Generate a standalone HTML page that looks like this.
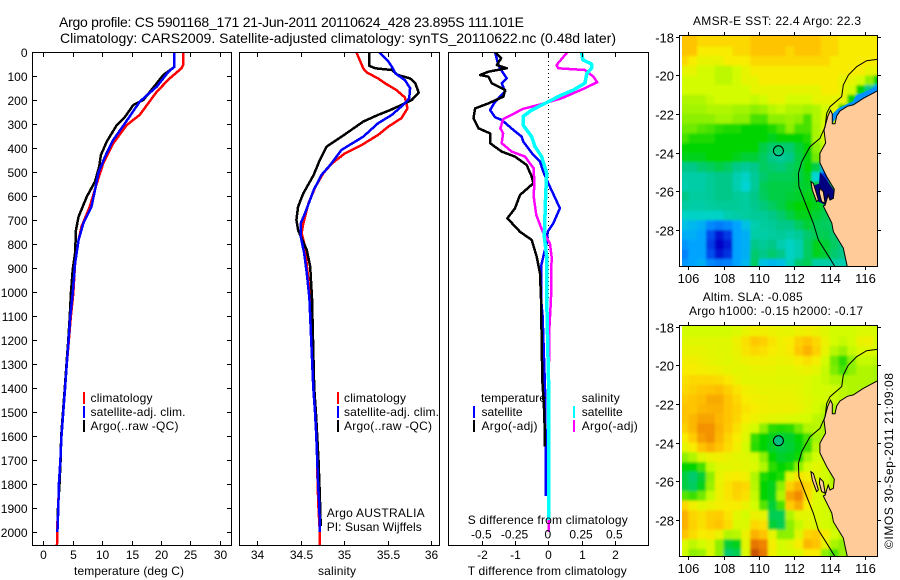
<!DOCTYPE html>
<html lang="en">
<head>
<meta charset="utf-8">
<title>Argo profile 5901168_171</title>
<style>
html,body{margin:0;padding:0;background:#fff}
svg{display:block}
text{font-family:"Liberation Sans",sans-serif;font-size:12px;fill:#000}
.title{font-size:14px}
.map{font-size:13px}
.box{fill:none;stroke:#000;stroke-width:1;shape-rendering:crispEdges}
</style>
</head>
<body>
<svg id="chart" width="900" height="580" viewBox="0 0 900 580" xmlns="http://www.w3.org/2000/svg">
  <text class="title" x="59" y="27" textLength="465" lengthAdjust="spacing">Argo profile: CS 5901168_171 21-Jun-2011 20110624_428 23.895S 111.101E</text>
  <text class="title" x="60" y="43" textLength="556" lengthAdjust="spacing">Climatology: CARS2009. Satellite-adjusted climatology: synTS_20110622.nc (0.48d later)</text>

  <defs>
    <clipPath id="clip-temp"><rect x="32" y="52" width="200" height="494"/></clipPath>
    <clipPath id="clip-sal"><rect x="239" y="52" width="201" height="494"/></clipPath>
    <clipPath id="clip-diff"><rect x="448" y="52" width="201" height="494"/></clipPath>
    <clipPath id="clip-map-sst"><rect x="682" y="36" width="195" height="230"/></clipPath>
    <clipPath id="clip-map-sla"><rect x="682" y="326" width="195" height="230"/></clipPath>
    <filter id="soften" x="-5%" y="-5%" width="110%" height="110%"><feGaussianBlur stdDeviation="1.3"/></filter>
  </defs>

  <g id="plot-temp" clip-path="url(#clip-temp)"></g>
  <g id="plot-sal" clip-path="url(#clip-sal)"></g>
  <line x1="548.5" y1="53" x2="548.5" y2="300" stroke="#000" stroke-width="1" stroke-dasharray="1 3"/>
  <g id="plot-diff" clip-path="url(#clip-diff)"></g>

  <g id="axes"></g>
  <rect class="box" x="32.5" y="52.5" width="199" height="493"/>
  <rect class="box" x="239.5" y="52.5" width="200" height="493"/>
  <rect class="box" x="448.5" y="52.5" width="200" height="493"/>

  <text x="74" y="575" textLength="110" lengthAdjust="spacing">temperature (deg C)</text>
  <text x="318" y="575" textLength="38" lengthAdjust="spacing">salinity</text>
  <text x="467.7" y="575" textLength="159" lengthAdjust="spacing">T difference from climatology</text>
  <text x="467.7" y="524" textLength="160" lengthAdjust="spacing">S difference from climatology</text>

  <g>
    <rect x="83" y="392" width="2" height="12" fill="#f00"/>
    <text x="90.5" y="402" textLength="62" lengthAdjust="spacing">climatology</text>
    <rect x="83" y="406" width="2" height="12" fill="#00f"/>
    <text x="90.5" y="416" textLength="95" lengthAdjust="spacing">satellite-adj. clim.</text>
    <rect x="83" y="420" width="2" height="12" fill="#000"/>
    <text x="90.5" y="430" textLength="88" lengthAdjust="spacing">Argo(..raw -QC)</text>
  </g>
  <g>
    <rect x="337" y="392" width="2" height="12" fill="#f00"/>
    <text x="344" y="402" textLength="62" lengthAdjust="spacing">climatology</text>
    <rect x="337" y="406" width="2" height="12" fill="#00f"/>
    <text x="344" y="416" textLength="95" lengthAdjust="spacing">satellite-adj. clim.</text>
    <rect x="337" y="420" width="2" height="12" fill="#000"/>
    <text x="344" y="430" textLength="88" lengthAdjust="spacing">Argo(..raw -QC)</text>
  </g>
  <text x="326.7" y="517" textLength="98" lengthAdjust="spacing">Argo AUSTRALIA</text>
  <text x="326.7" y="531" textLength="95" lengthAdjust="spacing">PI: Susan Wijffels</text>

  <g>
    <text x="481" y="402" textLength="65" lengthAdjust="spacing">temperature</text>
    <rect x="473" y="406" width="2" height="12" fill="#00f"/>
    <text x="481.5" y="416" textLength="41" lengthAdjust="spacing">satellite</text>
    <rect x="473" y="420" width="2" height="12" fill="#000"/>
    <text x="481.5" y="430" textLength="56" lengthAdjust="spacing">Argo(-adj)</text>
    <text x="581.7" y="402" textLength="38" lengthAdjust="spacing">salinity</text>
    <rect x="573" y="406" width="2" height="12" fill="#0ff"/>
    <text x="581.7" y="416" textLength="41" lengthAdjust="spacing">satellite</text>
    <rect x="573" y="420" width="2" height="12" fill="#f0f"/>
    <text x="581.7" y="430" textLength="56" lengthAdjust="spacing">Argo(-adj)</text>
  </g>

  <text x="693" y="25" textLength="168" lengthAdjust="spacing">AMSR-E SST: 22.4  Argo: 22.3</text>
  <g id="map-sst" clip-path="url(#clip-map-sst)"></g>
  <rect class="box" x="679.5" y="35.5" width="198" height="231"/>

  <text x="702.7" y="301" textLength="100" lengthAdjust="spacing">Altim. SLA: -0.085</text>
  <text x="689" y="315" textLength="174" lengthAdjust="spacing">Argo h1000: -0.15 h2000: -0.17</text>
  <g id="map-sla" clip-path="url(#clip-map-sla)"></g>
  <rect class="box" x="679.5" y="325.5" width="198" height="231"/>

  <text transform="translate(893,549) rotate(-90)" textLength="176" lengthAdjust="spacing">©IMOS 30-Sep-2011 21:09:08</text>
</svg>

<script>
// Tick labels
const depthTicks = [0,100,200,300,400,500,600,700,800,900,1000,1100,1200,1300,1400,1500,1600,1700,1800,1900,2000];
const tempTicks = [0,5,10,15,20,25,30];
const salTicks = [34,34.5,35,35.5,36];
const tDiffTicks = [-2,-1,0,1,2];
const sDiffTicks = [-0.5,-0.25,0,0.25,0.5];
const lonTicks = [106,108,110,112,114,116];
const latTicks = [-18,-20,-22,-24,-26,-28];

// Temperature panel (depth in dbar, temperature in deg C)
const tempClimDepths = [0,54,68,110,165,262,304,380,463,547,644,728,783,880,1005,1100,1200,1300,1400,1500,1600,1700,1800,1900,2000,2054];
const tempClimValues = [23.8,23.8,23.5,21.5,19.3,16.4,14.2,11.9,10.2,9.1,7.9,6.5,6,5.4,5.1,4.7,4.35,4.0,3.7,3.4,3.1,2.9,2.7,2.5,2.35,2.33];
const tempSatDepths = [0,62,82,144,207,297,366,436,505,575,644,714,783,880,1005,1100,1200,1300,1400,1500,1600,1700,1800,1900,2000];
const tempSatValues = [22.3,22.3,21.3,19.3,16.4,13.9,11.9,10.5,9.35,8.8,8.2,6.8,6,5.4,5,4.6,4.3,4.0,3.7,3.4,3.1,2.9,2.65,2.55,2.4];
const tempArgoDepths = [0,62,96,130,200,221,270,304,373,429,477,540,603,686,741,838,908,1005,1100,1200,1300,1400,1500,1600,1700,1800,1900,1960];
const tempArgoValues = [22.3,22.3,20.4,19.3,17,15.3,13.9,12.5,10.8,9.8,9.5,8.8,7.4,6,5.56,5.4,5,4.7,4.5,4.25,3.95,3.65,3.35,3.05,2.95,2.75,2.5,2.45];

// Salinity panel (depth in dbar, salinity)
const salClimDepths = [0,68,85,110,130,158,189,235,276,311,346,388,422,464,505,561,630,714,755,811,922,1026,1400,1500,1600,1700,1800,1900,2000,2054];
const salClimValues = [35.14,35.22,35.26,35.39,35.47,35.6,35.7,35.73,35.66,35.51,35.39,35.2,35.01,34.86,34.76,34.67,34.59,34.53,34.51,34.55,34.58,34.61,34.65,34.665,34.68,34.69,34.695,34.705,34.72,34.72];
const salSatDepths = [0,40,61,89,117,151,193,214,262,297,353,408,471,512,575,672,714,769,839,922,1026,1400,1500,1600,1700,1800,1900,2000];
const salSatValues = [35.4,35.51,35.55,35.59,35.7,35.76,35.75,35.7,35.55,35.39,35.22,34.97,34.84,34.74,34.65,34.55,34.5,34.5,34.54,34.57,34.6,34.645,34.665,34.68,34.69,34.7,34.715,34.72];
const salArgoDepths = [0,58,68,75,96,110,130,169,200,221,242,262,290,318,353,394,450,512,589,644,700,742,776,825,894,1026,1400,1500,1600,1700,1800,1900,1975];
const salArgoValues = [35.29,35.29,35.36,35.55,35.62,35.76,35.82,35.86,35.78,35.66,35.53,35.39,35.22,35.11,34.97,34.8,34.72,34.65,34.53,34.47,34.45,34.47,34.51,34.57,34.61,34.63,34.655,34.675,34.69,34.705,34.715,34.725,34.73];

// Difference panel (T differences in deg C, S differences in salinity units)
const diffTSatDepths = [0,47,68,110,130,165,207,242,272,283,325,353,374,429,457,499,547,651,714,749,797,853,894,1026,1100,1400,1600,1850];
const diffTSatValues = [-1.6,-1.52,-1.45,-1.25,-1.4,-1.3,-1.6,-1.75,-1.6,-1.4,-1.05,-0.8,-0.75,-0.45,-0.25,-0.15,0,0.35,0.15,-0.02,-0.05,-0.15,-0.22,-0.22,-0.17,-0.1,-0.08,-0.07];
const diffTArgoDepths = [0,26,54,68,82,96,103,130,158,186,214,235,276,318,339,380,415,436,471,519,547,596,651,693,749,783,853,922,1026,1366,1505,1644];
const diffTArgoValues = [-1.6,-1.42,-1.55,-1.25,-1.8,-2.05,-1.8,-1.7,-1.3,-1.35,-1.8,-2.2,-2.25,-2.1,-1.75,-1.75,-1.4,-1,-0.65,-0.5,-0.45,-0.85,-1,-1.23,-0.85,-0.5,-0.35,-0.25,-0.22,-0.18,-0.12,-0.1];
const diffSSatDepths = [0,33,50,68,89,130,158,179,214,242,269,304,353,394,436,505,603,769,853,1026,1400,1950];
const diffSSatValues = [0.25,0.26,0.325,0.325,0.29,0.275,0.19,0.1,-0.025,-0.125,-0.19,-0.19,-0.125,-0.1,-0.05,-0.012,-0.02,-0.03,-0.012,-0.012,0.003,0.002];
const diffSArgoDepths = [0,54,68,75,103,126,151,193,221,237,280,318,339,380,415,436,485,547,603,679,749,797,853,1026,1150,1400,2000];
const diffSArgoValues = [0.145,0.062,0.075,0.275,0.34,0.368,0.275,0.1,-0.075,-0.19,-0.34,-0.36,-0.34,-0.35,-0.275,-0.175,-0.11,-0.105,-0.11,-0.09,-0.042,0.012,0.025,0.02,0.008,0.003,0.003];

// SST map: colour index per 0.5-degree cell, rows from 18S southwards, columns from 105.5E eastwards
const sstGrid = [
[10,10,9.5,9.5,9.5,9.5,9.5,9.5,10,10,10,10,10,10,10,10,9.5,9.5,9,9,9,9,9],
[10,10,9,9,9,9,9.5,9.5,10,10,10,10,9.5,10,10,10,9.5,9.5,9,9,9,9,9],
[9.5,9,8.5,8.5,8.5,9,9,9,9.5,9.5,9.5,9.5,9.5,9.5,9.5,9.5,9.5,9,9,9,9,9,9],
[8.5,8.5,8,8,7.7,7.7,8,8.5,9,9,9,9,9,9,9,9,9,9,9,9,9,8.5,8.5],
[8,8,8,8,7.7,7.7,8,8.5,8.5,9,9,9,9,9,9,9,9,9,8.5,8.5,8,7,6],
[8,8,8,8,8,8,8,8,8.5,8.5,8.5,8.5,8.5,8.5,8.5,8.5,9,9,8.5,8,6,5,3],
[7.5,7.5,7.5,7.8,8,8,8,8,7.8,8,8.5,8.5,8,8,8,8.5,8.5,8.5,8.5,6,3,2,1],
[7.3,7.3,7.3,7.5,7.5,7.5,7.3,7.3,7,7.2,7.6,7.8,7.5,7.5,7.3,7.5,8,8.5,6,4],
[7,7,7,7,7.3,7.3,7,7,6.5,6.5,7,7,7.2,7,6.5,7.5,8,8,4],
[6.8,6.8,6.6,6.5,6.3,6.2,6.2,6,6,6,6.2,6.5,7,6.5,6.5,7.4,8.2,8.2,8],
[6.5,6.2,6.2,6.2,6,6,6,6,6,6,5.8,6,6,6,6.2,7.4,8,8,7.8],
[6,6,6,6,6,6,6,6,6,5.5,5.2,5.2,5.2,5.6,6,7,7.8,7.5,7],
[5.8,5.8,5.8,6,6,6,5.8,5.6,5.6,5.3,5,4.8,5,5.5,5.9,6.8,7.3,7.2],
[5,5,5.2,5.3,5.5,5.3,5,4.8,5,5.3,5.2,5.1,5.3,5.5,6,5.5,3,3,3,3],
[4.6,4.6,4.6,4.8,5,5,4.5,4.2,4.8,5.2,5.4,5.4,5.4,5.5,5.8,4,1.5,1],
[4.5,4.6,4.6,4.8,5,5,4.5,4,4.8,5.4,5.5,5.5,5.5,5.6,5.7,5.8,5.8,5.5,3,1,1],
[5,4.7,4.7,4.8,5,5,4.8,4.7,5,5.3,5.5,5.5,5.6,5.7,5.8,5.8,5.6,5.3,3,1,1],
[4.7,4.6,4.6,4.7,4.8,4.8,4.8,4.7,4.9,5.1,5.3,5.5,5.8,6,6,5.8,5.6,5.4,5.2],
[4.2,4.2,4.2,4.2,4.2,4.5,4.6,4.7,4.8,4.8,5,5.2,5.5,5.8,5.8,5.6,5.4,5.2,5],
[3.6,3.4,3.2,2.6,2.4,2.6,3,3.6,4.5,4.7,4.8,5,5,5.3,5.6,5.4,5.3,5.2,5,4.6],
[3.2,3.2,3,1.8,1.2,1.6,3,3.2,4.6,4.6,4.7,4.8,4.6,4.8,5.2,5.4,5.4,5.2,5,4.4,4],
[2.8,3,3,1.6,1,1.3,3,3.2,5,4.8,5,4.5,4.2,4.5,5.3,5.8,5.6,5.3,5,5,4],
[2.5,3,3,1.8,1.2,1.5,3,3.2,5.2,5,5.2,5,4.2,4.5,5.3,5.8,5.6,5.2,5,5,4.5],
[2.8,3,3.2,2.6,2.4,2.5,3,3.4,5.3,3.6,3.4,3.6,4.3,5.2,5.4,4.6,4.6,4.6,4.5,4.6,4]
];

// Sea level anomaly map: colour index per 0.5-degree cell
const slaGrid = [
[8,8,8,8,8,8,8.2,8.5,8.8,8.8,8.6,8.5,8.5,8.7,8.8,8.6,8.3,8,8,8,8.2,8.2,8],
[8.3,8.3,8.3,8.3,8.3,8.3,8.7,9.3,9.9,9.7,9.2,8.8,9,9.7,10,9.5,8.6,8,7.8,8,8.6,8.7,8],
[8.5,8.5,8.5,8.4,8.3,8.3,8.6,9.2,9.5,9.3,9,8.8,9.1,9.9,10.3,9.7,8.5,7.6,7.2,7.8,8.2,8.3,8],
[8.8,8.8,8.6,8.5,8.4,8.3,8.5,8.7,8.8,8.8,8.7,8.6,8.7,9,9.3,8.9,8,6.8,6.3,7,7.8,7.8,7.6],
[9,9,8.9,8.8,8.7,8.5,8.4,8.4,8.5,8.5,8.5,8.4,8.4,8.5,8.6,8.4,7.8,6.9,6.5,7,7.5,7.5,7.3],
[9.3,9.5,9.5,9.5,9.4,9.1,8.6,8.4,8.4,8.4,8.4,8.3,8.3,8.3,8.2,8,7.8,7.5,7.4,7.5,7.5,7.5,7.3],
[9.5,9.7,9.9,10,10.1,9.7,9.2,8.8,8.6,8.5,8.5,8.5,8.5,8.4,8.2,8,8,7.9,7.7,7.5,7.5,7.5,7.3],
[9.8,10,10.1,10.4,10.4,10,9.5,9,8.8,8.7,8.6,8.6,8.6,8.5,8.3,8.1,8,7.9,7.7,7.5],
[10,10,10.2,10.3,10.3,10,9.7,9.2,9,8.8,8.7,8.7,8.7,8.6,8.3,8,7.7,7.4,7.3],
[10,10.2,10.5,10.5,10.2,10,9.6,9,8.7,8.5,8.4,8.3,8.2,8.1,8,7.7,7.4,7.4,7.5],
[9.7,10.2,10.8,10.8,10.3,9.9,9.3,8.5,8,7,6.3,6.2,6.3,6.8,7.5,7.6,7.4,7.4,7.6],
[9,9.8,10.6,10.8,10.2,9.6,9,8.3,6.4,6,5.8,5.6,5.7,6,6.5,7.3,7.5,7.5,7.7],
[8.5,9,10,10.3,10,9.4,8.8,8,6.3,6,5.7,5.5,5.6,5.9,6.4,7.6,7.8,7.8,7.7],
[7,7.5,8.3,8.7,8.8,8.6,8.4,8.3,8,7,6,5.7,5.8,6.1,7.3,8,8,7.7,7.7,7],
[6,6,6.5,7.8,8.3,8.4,8.5,8.4,8.2,7.5,6.3,6,6.2,7,8,8.4,8,7.7,7.5,7],
[5.5,5.2,5.6,7,8.5,8.9,9,8.8,7.5,6.2,6,6.2,8.3,9.2,8.8,8.2,8,7.5,7.5,6.8],
[5.5,5.3,5.8,7.2,8.6,9.2,9.7,9.5,7.6,6,5.8,7,9.7,10.3,9.6,8.4,8,7.6,7.5,7],
[6.6,6.4,6.8,7.8,8.7,9.2,9.6,9.3,7.8,6,5.8,7.5,10.5,10.9,9.4,8.2,8,7.6,7.6],
[9.5,8.8,8.4,8.6,8.9,9,9,8.6,8,6.6,5.6,6.5,9.8,10.4,9,8.2,8,7.6,7.6],
[10.3,9.6,9.3,9.7,9.8,9.2,8.4,8,8.6,8.5,5.4,5.4,7.5,8.4,8.4,8.2,8,7.7,7.7],
[10.3,9.7,9.3,9.8,10,9.4,8.2,8.2,9.5,9.3,5.6,5.4,7,7.8,8.4,8.2,8,7.8,7.7],
[10,9.4,9,9.1,8.6,7.5,7.6,8.6,10.3,10,8.5,7,7,8.3,9.6,9.8,9,8,7.7],
[8.2,7.7,8,8.3,7,5.6,5.8,8.4,11.2,11,8.9,8,8.3,9,10.2,10,8.6,7.4,7],
[8,7,7.2,8.2,7,5.2,5.4,8.2,11.8,11.2,8.8,8,8,8.2,9,9,7,6.5,7.2,7.7]
];

// Colour ramp: index 0..12
const rampColors = ["#000078","#0000c8","#0060f8","#00a4ff","#00d4d4","#00c888","#00d400","#8cf000","#d4fc00","#f8ec00","#ffc400","#f08400","#c04400"];

// Geography (lon, lat)
const landLons = [116.8,115.9,115.34,115,114.58,114.4,114.3,114.15,114.15,114.05,113.9,113.68,113.77,113.45,113.45,113.83,114.26,114.21,114.02,113.92,113.74,113.64,114.12,114.21,114.77,115,115,116.8];
const landLats = [-20.75,-21.19,-21.53,-21.6,-21.85,-22.1,-22.5,-22.5,-22,-21.8,-22.1,-22.83,-23.5,-24.03,-24.53,-25.24,-25.89,-26.36,-26.45,-26.19,-26.71,-26.76,-27.64,-28.09,-28.93,-29.9,-30.2,-30.2];
const peronLons = [113.45,113.64,113.74,113.55,113.42];
const peronLats = [-25.84,-26.02,-26.62,-26.53,-26.1];
const hartogLons = [112.94,113.08,113.36,113.26,113.02];
const hartogLats = [-25.5,-25.59,-26.45,-26.53,-25.93];
const contourLons = [116.7,116.09,115.53,115.06,114.77,114.68,114.02,113.83,113.74,113.45,112.89,112.42,112.23,112.26,112.7,113.08,113.36,113.83,114.3];
const contourLats = [-19.17,-19.24,-19.55,-19.98,-20.5,-21.1,-21.62,-21.97,-22.66,-23.26,-23.69,-24.47,-25.07,-25.76,-26.79,-27.66,-28.52,-29.2,-29.9];
const sharkBayLons = [113.45,113.83,114.3,114.2,113.74,113.3,113.1,113.4];
const sharkBayLats = [-25,-25.41,-26.02,-26.45,-26.7,-26.5,-25.7,-25.6];
const gulfLons = [114.15,114.15,114.5,115.3,115.5,116.7,116.7,115.9,115,114.5];
const gulfLats = [-22.5,-22,-21.7,-21.35,-21.05,-20.55,-20.8,-21.2,-21.65,-22];
const floatLon = 111.1;
const floatLat = -23.9;

const NS = "http://www.w3.org/2000/svg";
const depthY = d => 52 + d * 0.24;
const tempX = t => 43.3 + t * 5.88;
const salX = s => 257.3 + (s - 34) * 86.8;
const tDiffX = t => 548.3 + t * 33.25;
const sDiffX = s => 548.3 + s * 133;
const mapLonX = lon => 688.3 + (lon - 106) * 17.67;
const mapLatY = (lat, top) => top + (-18 - lat) * 19.33;

function make(parent, tag, attrs) {
  const el = document.createElementNS(NS, tag);
  for (const k in attrs) el.setAttribute(k, attrs[k]);
  parent.appendChild(el);
  return el;
}

function drawProfile(parentId, depths, values, xFn, color, width, name) {
  const pts = depths.map((d, i) => xFn(values[i]).toFixed(1) + "," + depthY(d).toFixed(1)).join(" ");
  const el = make(document.getElementById(parentId), "polyline", {points: pts, fill: "none", stroke: color, "stroke-width": width, "shape-rendering": "crispEdges", "stroke-linejoin": "round"});
  
  
}

drawProfile("plot-temp", tempClimDepths, tempClimValues, tempX, "#f00", 2.5, "temperature-climatology-line");
drawProfile("plot-temp", tempArgoDepths, tempArgoValues, tempX, "#000", 2.5, "temperature-argo-line");
drawProfile("plot-temp", tempSatDepths, tempSatValues, tempX, "#00f", 2.5, "temperature-satellite-line");
drawProfile("plot-sal", salClimDepths, salClimValues, salX, "#f00", 2.5, "salinity-climatology-line");
drawProfile("plot-sal", salArgoDepths, salArgoValues, salX, "#000", 2.5, "salinity-argo-line");
drawProfile("plot-sal", salSatDepths, salSatValues, salX, "#00f", 2.5, "salinity-satellite-line");
drawProfile("plot-diff", diffTSatDepths, diffTSatValues, tDiffX, "#00f", 2.5, "t-difference-satellite-line");
drawProfile("plot-diff", diffTArgoDepths, diffTArgoValues, tDiffX, "#000", 2.5, "t-difference-argo-line");
drawProfile("plot-diff", diffSArgoDepths, diffSArgoValues, sDiffX, "#f0f", 2.5, "s-difference-argo-line");
drawProfile("plot-diff", diffSSatDepths, diffSSatValues, sDiffX, "#0ff", 3.5, "s-difference-satellite-line");

const axes = document.getElementById("axes");

function tick(x1, y1, x2, y2, name) {
  const el = make(axes, "line", {x1: x1, y1: y1, x2: x2, y2: y2, stroke: "#000", "stroke-width": 1, "shape-rendering": "crispEdges"});
  
  
}

function label(x, y, text, anchor, cls, name) {
  const el = make(axes, "text", {x: x, y: y, "text-anchor": anchor});
  if (cls) el.setAttribute("class", cls);
  el.textContent = text;
  
  
}

depthTicks.forEach(d => {
  const y = Math.round(depthY(d)) + 0.5;
  tick(32, y, 37, y, "depth-tick-left");
  tick(227, y, 232, y, "depth-tick-right");
  label(27.5, y + 4.5, String(d), "end", "", "depth-tick-label");
});

function xAxis(ticks, xFn, prefix) {
  ticks.forEach(v => {
    const x = Math.round(xFn(v)) + 0.5;
    tick(x, 52, x, 57, prefix + "-tick-top");
    tick(x, 541, x, 546, prefix + "-tick-bottom");
    label(x, 559, String(v), "middle", "", prefix + "-tick-label");
  });
}
xAxis(tempTicks, tempX, "temperature");
xAxis(salTicks, salX, "salinity");
xAxis(tDiffTicks, tDiffX, "t-difference");
sDiffTicks.forEach(v => {
  label(sDiffX(v) - 0.5, 538.7, String(v), "middle", "", "s-difference-tick-label");
});

function mapAxes(top, bottom, latTop, lonBase, name) {
  lonTicks.forEach(lon => {
    const x = Math.round(mapLonX(lon)) + 0.5;
    tick(x, top - 3, x, top, name + "-lon-tick-top");
    tick(x, bottom, x, bottom + 3, name + "-lon-tick-bottom");
    label(x, lonBase, String(lon), "middle", "map", name + "-lon-label");
  });
  latTicks.forEach(lat => {
    const y = Math.round(mapLatY(lat, latTop)) + 0.5;
    tick(676, y, 679, y, name + "-lat-tick-left");
    tick(878, y, 881, y, name + "-lat-tick-right");
    label(674, y + 5, String(lat), "end", "map", name + "-lat-label");
  });
}
mapAxes(35, 267, 36.7, 283, "sst-map");
mapAxes(325, 557, 326.7, 573, "sla-map");

function rampColor(v) {
  const c = Math.max(0, Math.min(rampColors.length - 1.001, v));
  const i = Math.floor(c), f = c - i;
  const a = rampColors[i], b = rampColors[i + 1];
  const mix = p => Math.round(parseInt(a.substr(p, 2), 16) * (1 - f) + parseInt(b.substr(p, 2), 16) * f);
  return "rgb(" + mix(1) + "," + mix(3) + "," + mix(5) + ")";
}

function polyPoints(lons, lats, top) {
  return lons.map((lon, i) => mapLonX(lon).toFixed(1) + "," + mapLatY(lats[i], top).toFixed(1)).join(" ");
}

function drawMap(id, grid, top, circleFill, patches, prefix) {
  const root = document.getElementById(id);
  const cells = make(root, "g", {filter: "url(#soften)"});
  
  
  grid.forEach((row, r) => {
    for (let c = 0; c < 24; c++) {
      const v = c < row.length ? row[c] : row[row.length - 1];
      const x0 = mapLonX(105.5 + c * 0.5), x1 = mapLonX(106 + c * 0.5);
      const y0 = mapLatY(-18 - r * 0.5, top), y1 = mapLatY(-18.5 - r * 0.5, top);
      const extraX = c === 0 ? 8 : 0;
      const extraY = r === 0 ? 8 : 0;
      const bottomY = r === grid.length - 1 ? 8 : 0;
      const cell = make(cells, "rect", {x: (x0 - extraX).toFixed(1), y: (y0 - extraY).toFixed(1), width: (x1 - x0 + extraX + 0.5).toFixed(1), height: (y1 - y0 + extraY + bottomY + 0.5).toFixed(1), fill: rampColor(v)});
      
      
    }
  });
  patches.forEach(p => {
    const patch = make(root, "polygon", {points: polyPoints(p[0], p[1], top), fill: p[2]});
    
    
  });
  const land = make(root, "polygon", {points: polyPoints(landLons, landLats, top), fill: "#ffcc99", stroke: "#000", "stroke-width": 1});
  
  
  const peron = make(root, "polygon", {points: polyPoints(peronLons, peronLats, top), fill: "#ffcc99", stroke: "#000", "stroke-width": 1});
  
  
  const hartog = make(root, "polygon", {points: polyPoints(hartogLons, hartogLats, top), fill: "#ffcc99", stroke: "#000", "stroke-width": 1});
  
  
  const contour = make(root, "polyline", {points: polyPoints(contourLons, contourLats, top), fill: "none", stroke: "#000", "stroke-width": 1});
  
  
  const marker = make(root, "circle", {cx: mapLonX(floatLon), cy: mapLatY(floatLat, top), r: 5, fill: circleFill, stroke: "#000", "stroke-width": 1});
  
  
}

drawMap("map-sst", sstGrid, 36.7, "none", [[gulfLons, gulfLats, "#0090ff"], [sharkBayLons, sharkBayLats, "#000080"]], "sst");
drawMap("map-sla", slaGrid, 326.7, "#00c080", [], "sla");
</script>
</body>
</html>
